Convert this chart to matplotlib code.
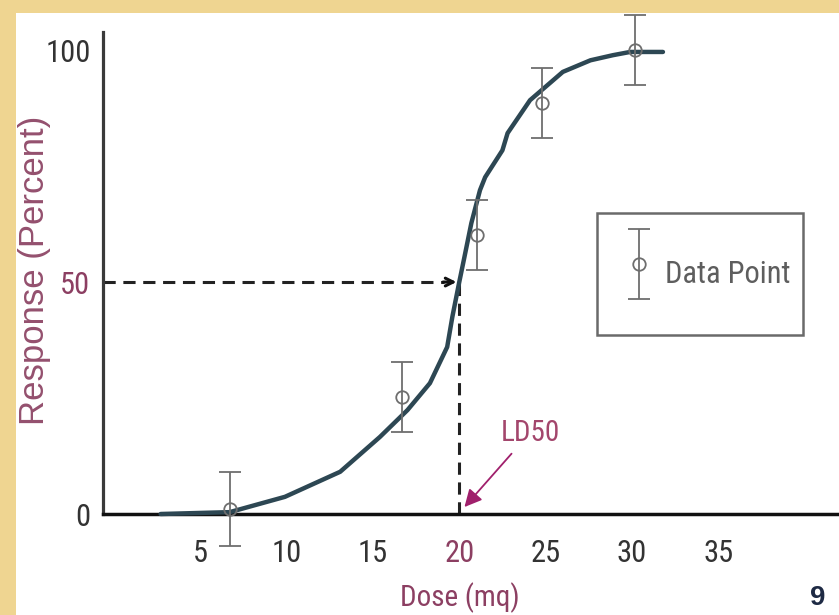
"""
Dose-response curve with LD50 marked (recreation of a textbook slide).
"""
import matplotlib
matplotlib.use("Agg")
import matplotlib.pyplot as plt
from matplotlib.patches import Rectangle
from matplotlib.container import ErrorbarContainer
from matplotlib.legend_handler import HandlerErrorbar

# ── data ────────────────────────────────────────────────────────────────────
curve_dose = [2.7, 6.7, 9.9, 13.1, 15.4, 17.0, 18.3, 19.3, 19.6, 20.0, 20.3,
              20.7, 21.2, 21.5, 22.5, 22.8, 24.1, 26.0, 27.6, 28.9, 29.9, 31.8]
curve_resp = [0.0, 0.4, 3.7, 9.1, 16.6, 22.4, 28.2, 36.0, 42.5, 50.0, 55.4,
              62.7, 69.8, 72.6, 78.4, 82.1, 89.2, 95.3, 97.8, 98.9, 99.6, 99.6]

point_dose = [6.7, 16.7, 21.0, 24.8, 30.2]
point_resp = [1.0, 25.2, 60.1, 88.6, 100.0]
point_err = [8.0, 7.5, 7.5, 7.5, 7.5]

ld50_dose = 20.0
ld50_resp = 50
x_ticks = [5, 10, 15, 20, 25, 30, 35]
y_ticks = [0, 50, 100]

MAUVE = "#8c3f62"
NARROW = ["Roboto Condensed", "DejaVu Sans"]
WIDE = ["Liberation Sans", "DejaVu Sans"]

fig = plt.figure(figsize=(8.39, 6.15), dpi=100)
fig.patch.set_facecolor("white")
# tan slide border (top and left)
fig.patches.append(Rectangle((0, 1 - 13 / 615), 1, 13 / 615, transform=fig.transFigure,
                             facecolor="#efd591", edgecolor="none", zorder=0))
fig.patches.append(Rectangle((0, 0), 16 / 839, 1, transform=fig.transFigure,
                             facecolor="#efd591", edgecolor="none", zorder=0))

ax = fig.add_axes([103 / 839, 101 / 615, 736 / 839, 482 / 615])
ax.set_facecolor("none")
ax.set_xlim(-0.64, 42.0)
ax.set_ylim(0, 103.9)

for s in ("top", "right"):
    ax.spines[s].set_visible(False)
ax.spines["left"].set_color("#3a3a3a")
ax.spines["left"].set_linewidth(2.3)
ax.spines["bottom"].set_color("#111111")
ax.spines["bottom"].set_linewidth(2.5)

ax.set_xticks(x_ticks)
ax.set_yticks(y_ticks)
ax.tick_params(axis="x", length=0, pad=18, labelsize=22, labelcolor="#333333")
ax.tick_params(axis="y", length=0, pad=9, labelsize=22, labelcolor="#333333")
for lab in ax.get_xticklabels() + ax.get_yticklabels():
    lab.set_family(NARROW)
ax.get_xticklabels()[x_ticks.index(20)].set_color(MAUVE)
ax.get_yticklabels()[y_ticks.index(50)].set_color(MAUVE)

# LD50 guide lines
ax.plot([ax.get_xlim()[0], ld50_dose - 0.9], [ld50_resp, ld50_resp],
        color="#222222", lw=2.2, ls=(0, (4, 2.5)), clip_on=False)
ax.annotate("", xy=(ld50_dose, ld50_resp), xytext=(ld50_dose - 1.1, ld50_resp),
            arrowprops=dict(arrowstyle="->", color="#111111", lw=2.2,
                            mutation_scale=14))
ax.plot([ld50_dose, ld50_dose], [0, ld50_resp], color="#222222", lw=2.2,
        ls=(0, (4, 2.5)))

# fitted curve
ax.plot(curve_dose, curve_resp, color="#2d4753", lw=3.2, zorder=3,
        solid_capstyle="round", clip_on=False)

# data points with error bars
eb = ax.errorbar(point_dose, point_resp, yerr=point_err, fmt="o", ms=9,
                 mfc="none", mec="#6e6e6e", mew=1.3, ecolor="#6e6e6e",
                 elinewidth=1.3, capsize=8, capthick=1.3, zorder=4,
                 clip_on=False, label="Data Point")

# legend box
box = (0.671, 0.371, 0.28, 0.253)
ax.add_patch(Rectangle(box[:2], box[2], box[3], transform=ax.transAxes,
                       facecolor="white", edgecolor="#6a6a6a", lw=1.8, zorder=5))
leg = ax.legend(handles=[eb], loc="center left",
                bbox_to_anchor=(box[0] + 0.02, box[1] + box[3] / 2),
                frameon=False, fontsize=22, handlelength=0.8, handleheight=2.6,
                handletextpad=0.45, borderpad=0,
                handler_map={ErrorbarContainer: HandlerErrorbar(yerr_size=1.15)})
leg.set_zorder(6)
for t in leg.get_texts():
    t.set_color("#5e5e5e")
    t.set_family(NARROW)

# LD50 label and arrow
ax.annotate("LD50", xy=(ld50_dose + 0.3, 1.5), xytext=(24.1, 14.5),
            fontsize=21, color="#a3466c", family=NARROW, ha="center", va="bottom",
            arrowprops=dict(arrowstyle="-|>", color="#a0206c", lw=1.3,
                            mutation_scale=26, shrinkA=4, shrinkB=0))

# axis labels and slide number
fig.text(35 / 839, 1 - 270 / 615, "Response (Percent)", rotation=90,
         ha="center", va="center", fontsize=25, color="#94506e", family=WIDE)
fig.text(460 / 839, 1 - 598 / 615, "Dose (mq)", ha="center", va="center",
         fontsize=21, color=MAUVE, family=NARROW)
fig.text(818 / 839, 1 - 598 / 615, "9", ha="center", va="center",
         fontsize=20, fontweight="bold", color="#1e2a44", family=WIDE)

fig.savefig("out.png", dpi=100)
